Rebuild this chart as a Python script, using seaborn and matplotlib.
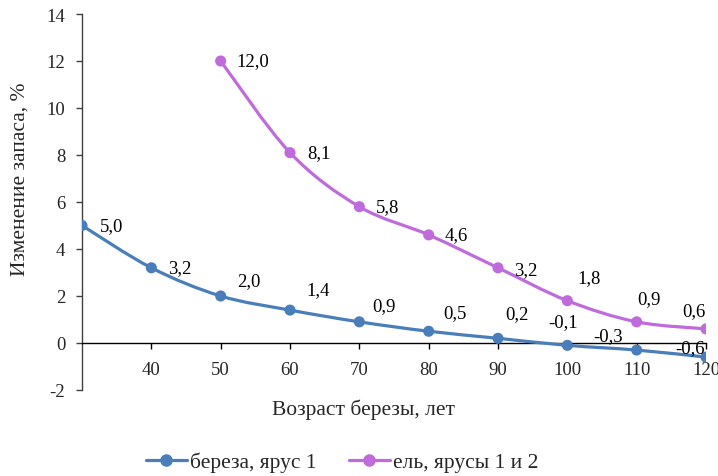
import numpy as np
import pandas as pd
import seaborn as sns
import matplotlib
matplotlib.use("Agg")
import matplotlib.pyplot as plt
from matplotlib.path import Path
from matplotlib.patches import PathPatch
from matplotlib.lines import Line2D

# Data
age_birch = [30, 40, 50, 60, 70, 80, 90, 100, 110, 120]
birch = [5.0, 3.2, 2.0, 1.4, 0.9, 0.5, 0.2, -0.1, -0.3, -0.6]
age_spruce = [50, 60, 70, 80, 90, 100, 110, 120]
spruce = [12.0, 8.1, 5.8, 4.6, 3.2, 1.8, 0.9, 0.6]
series_names = ["береза, ярус 1", "ель, ярусы 1 и 2"]
x_ticks = [40, 50, 60, 70, 80, 90, 100, 110, 120]
y_ticks = [-2, 0, 2, 4, 6, 8, 10, 12, 14]

colors = ["#4A7EBB", "#BF6BDB"]

# Label offsets in pixels (dx, dy) relative to each point
birch_offsets = [(30, 0), (28, 0), (28, 15), (28, 21), (25, 16), (26, 19),
                 (19, 25), (-4, 24), (-29, 14), (-16, 10)]
spruce_offsets = [(32, 0), (29, 0), (28, 0), (28, 0), (28, -2), (22, 23),
                  (12, 23), (-12, 18)]

sns.set_theme(style="white")
plt.rcParams["font.family"] = ["Liberation Serif", "DejaVu Serif"]

fig = plt.figure(figsize=(7.18, 4.77), dpi=100)
ax = fig.add_axes([82 / 718, 1 - 391 / 477, (706 - 82) / 718, (391 - 15) / 477])

df = pd.concat([
    pd.DataFrame({"age": age_birch, "value": birch, "series": series_names[0]}),
    pd.DataFrame({"age": age_spruce, "value": spruce, "series": series_names[1]}),
])


def smooth_path(xs, ys):
    pts = np.column_stack([xs, ys]).astype(float)
    n = len(pts)
    verts = [pts[0]]
    codes = [Path.MOVETO]
    for i in range(n - 1):
        p0 = pts[i - 1] if i > 0 else pts[i]
        p1 = pts[i]
        p2 = pts[i + 1]
        p3 = pts[i + 2] if i + 2 < n else pts[i + 1]
        c1 = p1 + (p2 - p0) / 6.0
        c2 = p2 - (p3 - p1) / 6.0
        verts += [c1, c2, p2]
        codes += [Path.CURVE4] * 3
    return Path(verts, codes)


for (xs, ys), c in zip([(age_birch, birch), (age_spruce, spruce)], colors):
    ax.add_patch(PathPatch(smooth_path(xs, ys), facecolor="none", edgecolor=c,
                           lw=2.3, capstyle="round", joinstyle="round", zorder=3))

sns.scatterplot(data=df, x="age", y="value", hue="series", palette=colors,
                s=64, edgecolor="none", linewidth=0, ax=ax, legend=False, zorder=4)

for xs, ys, offs in [(age_birch, birch, birch_offsets), (age_spruce, spruce, spruce_offsets)]:
    for x, y, (dx, dy) in zip(xs, ys, offs):
        ax.annotate(f"{y:.1f}".replace(".", ","), (x, y), xytext=(dx, dy),
                    textcoords="offset pixels", ha="center", va="center",
                    fontsize=13.5, color="black", zorder=5)

ax.set_xlim(30, 120)
ax.set_ylim(-2, 14)
ax.set_xticks(x_ticks)
ax.set_yticks(y_ticks)
ax.set_yticklabels([str(v) for v in y_ticks])

for s in ["top", "right"]:
    ax.spines[s].set_visible(False)
ax.spines["bottom"].set_position(("data", 0))
ax.spines["bottom"].set_color("black")
ax.spines["left"].set_color("#404040")
ax.spines["bottom"].set_linewidth(1.0)
ax.spines["left"].set_linewidth(1.0)

ax.tick_params(axis="x", direction="out", length=4, width=1, color="black",
               labelsize=13.5, pad=9, bottom=True)
ax.tick_params(axis="y", direction="out", length=4, width=1, color="#404040",
               labelsize=13.5, pad=8, left=True)

ax.set_xlabel("Возраст березы, лет", fontsize=15.5)
ax.xaxis.set_label_coords((363 - 82) / 624, (391 - 410) / 376)
ax.xaxis.label.set_va("center")
ax.set_ylabel("Изменение запаса, %", fontsize=15.5)
ax.yaxis.set_label_coords((20 - 82) / 624, (391 - 179) / 376)
ax.yaxis.label.set_va("center")

handles = [Line2D([0], [0], color=c, lw=2.3, marker="o", markersize=8) for c in colors]
fig.legend(handles, series_names, loc="center", bbox_to_anchor=(342 / 718, 1 - 463 / 477),
           ncol=2, frameon=False, fontsize=15.5, handlelength=1.9, handletextpad=0.15,
           columnspacing=1.5, borderpad=0)

fig.savefig("out.png", dpi=100)
